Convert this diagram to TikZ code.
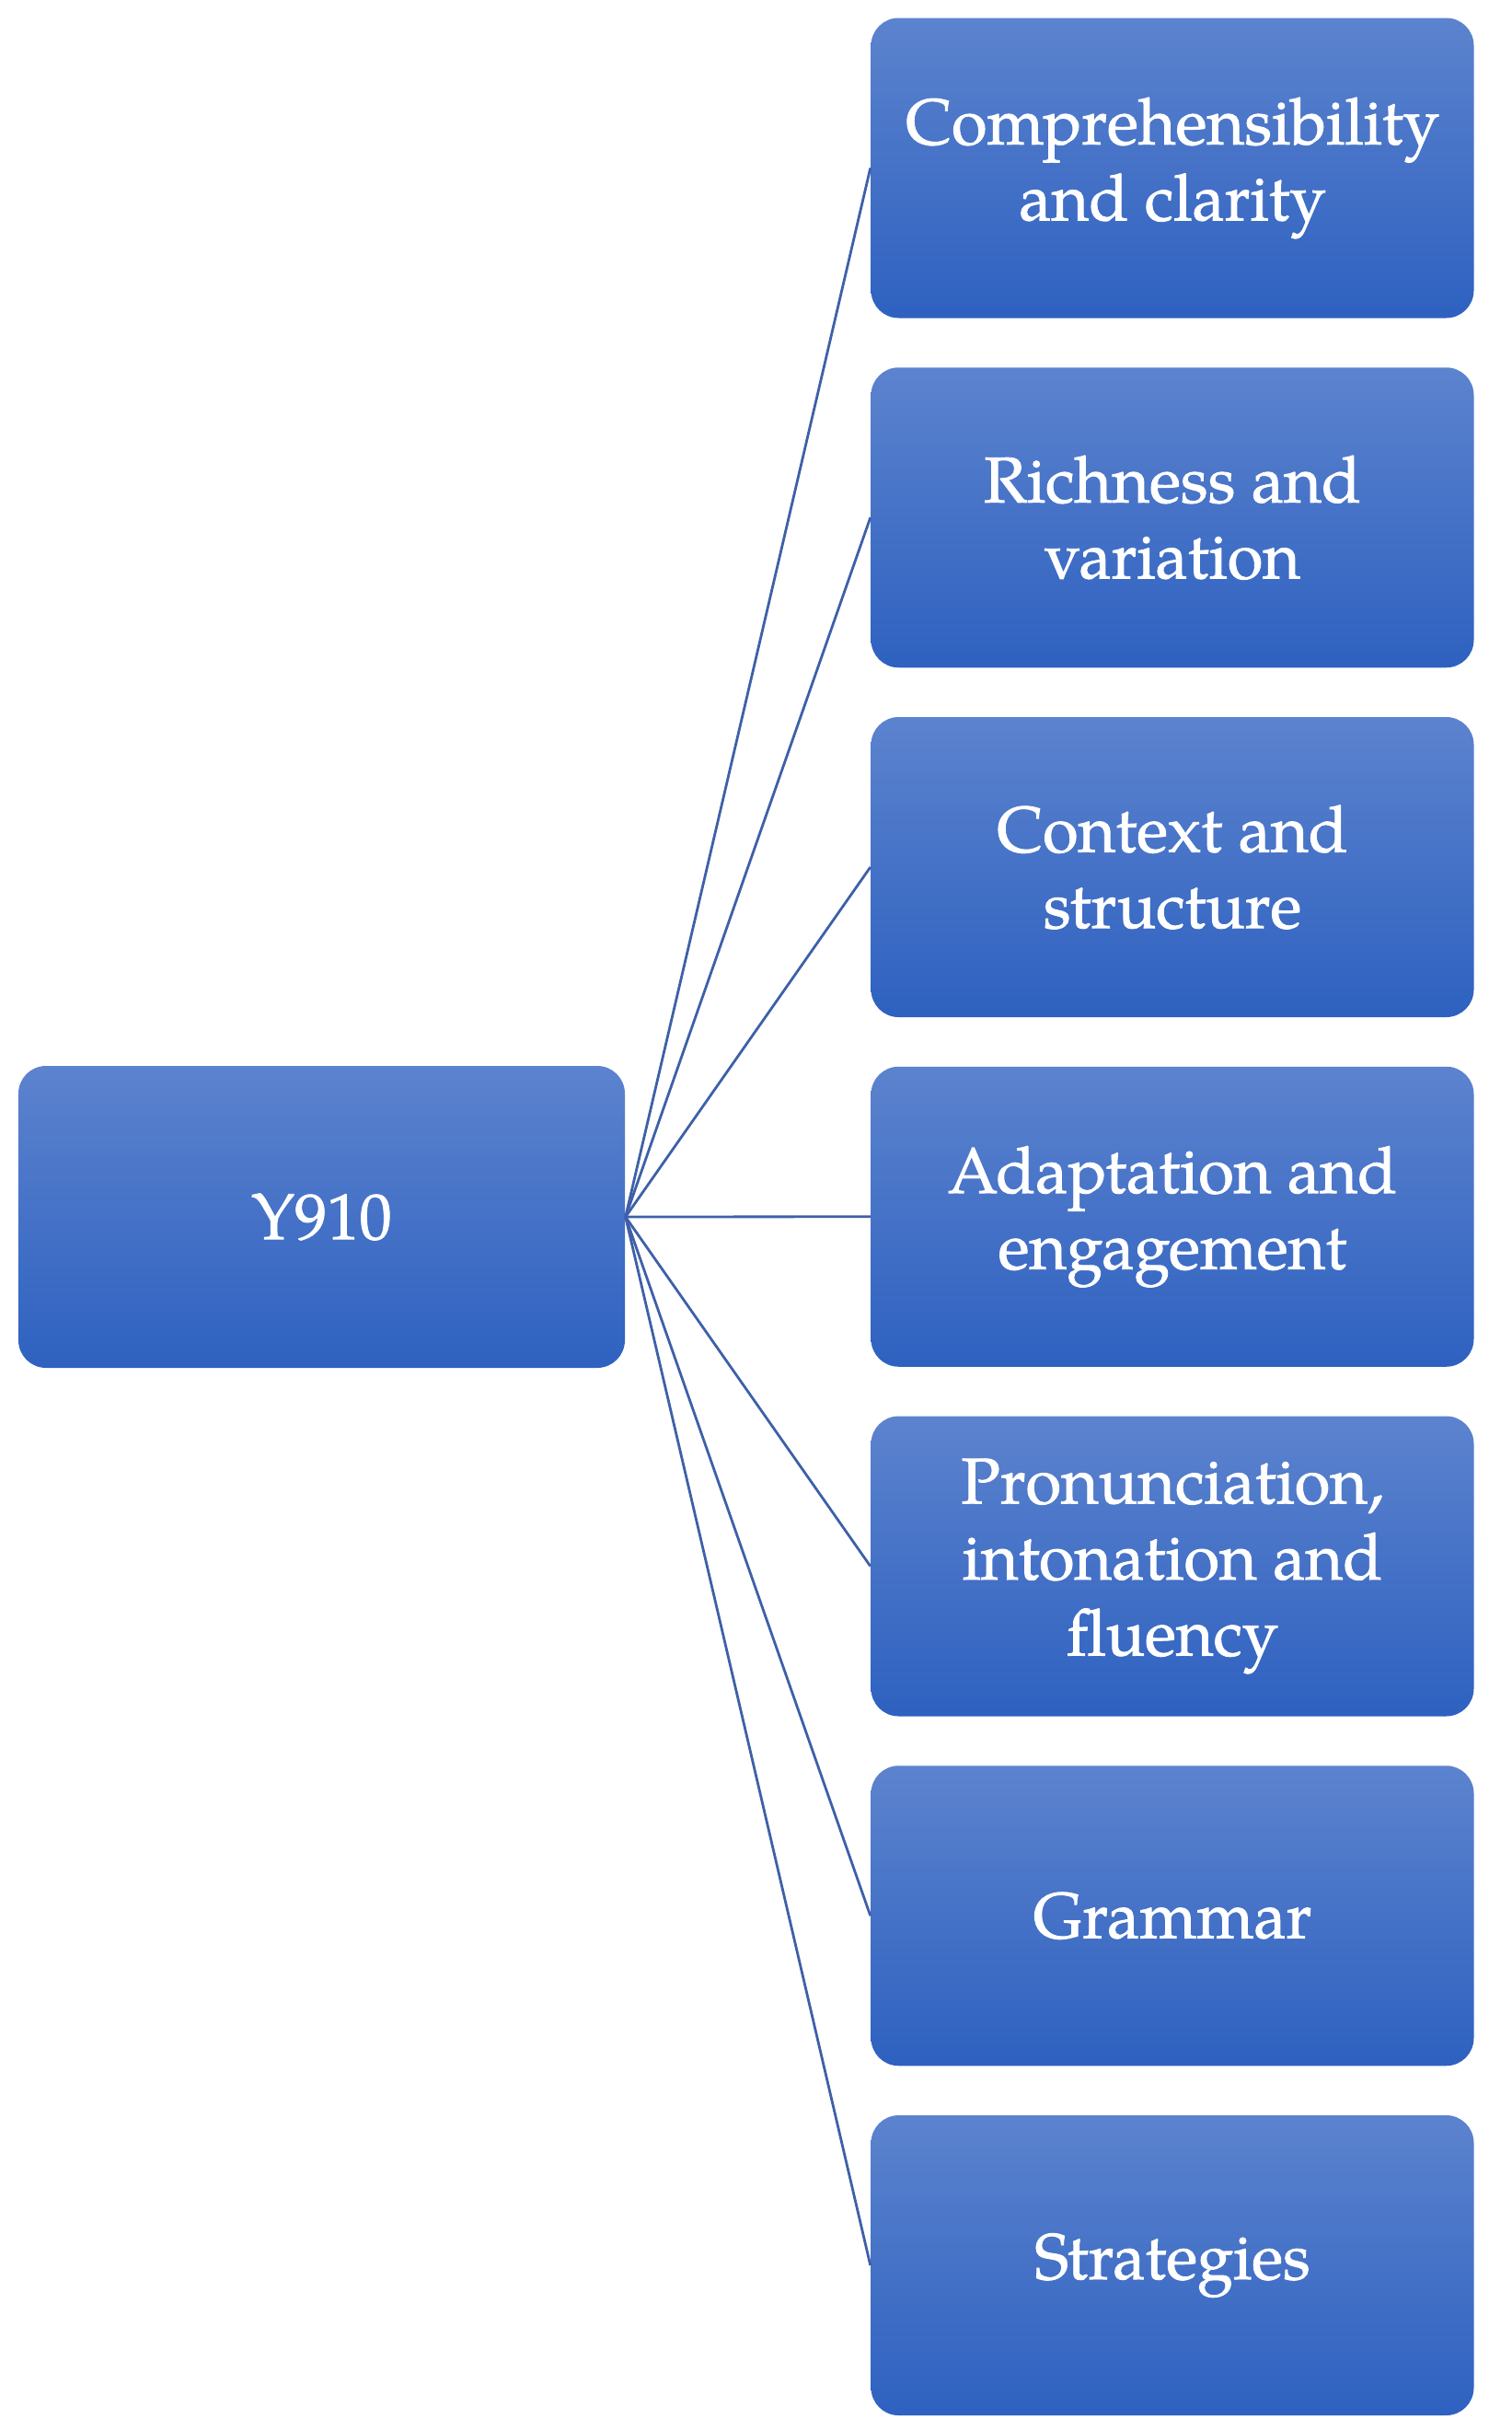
\documentclass[tikz,border=0pt]{standalone}
\usepackage{fontspec}
\setmainfont{texgyrepagella}[Extension=.otf,UprightFont=*-regular,BoldFont=*-bold,FakeBold=1.2]
\usetikzlibrary{positioning}
\definecolor{boxtop}{RGB}{92,131,206}
\definecolor{boxbot}{RGB}{46,97,192}
\definecolor{linkc}{RGB}{62,96,168}
\tikzset{
  box/.style={rounded corners=0.3cm, top color=boxtop, bottom color=boxbot, draw=none,
    text=white, align=center, minimum width=6.55cm, minimum height=3.26cm, inner sep=0pt,
    font=\fontsize{20}{23.5}\selectfont},
  link/.style={draw=linkc, line width=0.8pt}
}
\begin{document}
\begin{tikzpicture}
\useasboundingbox (0,0) rectangle (16.43,-26.41);
\node[box, minimum width=6.59cm, minimum height=3.28cm] (root) at (3.495,-13.22) {Y910};
\node[box] (c1) at (12.74,-1.825) {Comprehensibility\\and clarity};
\node[box] (c2) at (12.74,-5.6225) {Richness and\\variation};
\node[box] (c3) at (12.74,-9.42) {Context and\\structure};
\node[box] (c4) at (12.74,-13.2175) {Adaptation and\\engagement};
\node[box] (c5) at (12.74,-17.015) {Pronunciation,\\intonation and\\fluency};
\node[box] (c6) at (12.74,-20.8125) {Grammar};
\node[box] (c7) at (12.74,-24.61) {Strategies};
\foreach \i in {1,...,7} \draw[link] (root.east) -- (c\i.west);
\end{tikzpicture}
\end{document}
